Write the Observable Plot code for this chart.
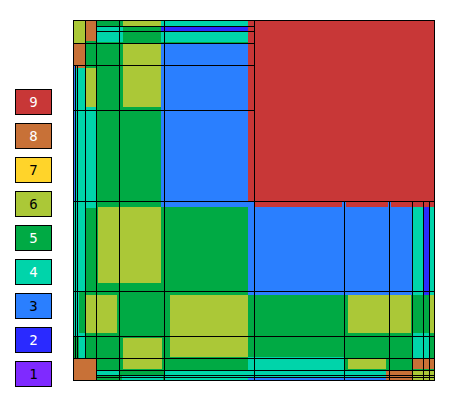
<!DOCTYPE html>
<html><head><meta charset="utf-8">
<script src="https://cdn.jsdelivr.net/npm/d3@7"></script>
<script src="https://cdn.jsdelivr.net/npm/@observablehq/plot@0.6"></script>
<style>
body{margin:0;background:#fff}
#wrap{position:relative;width:450px;height:400px}
.lg{position:absolute;left:15px;width:35px;height:24px;border:1px solid #000;font:14px "DejaVu Sans Mono",monospace;display:flex;align-items:center;justify-content:center}
</style>
</head><body><div id="wrap"></div>
<script>
// categories and palette
const categories = [1, 2, 3, 4, 5, 6, 7, 8, 9];
const palette = ["#7F2AFF", "#2A2AFF", "#2A7FFF", "#00D4AA", "#00AA44", "#ABC837", "#FFD42A", "#C87137", "#C83737"];
const labelInk = ["#000", "#fff", "#000", "#fff", "#fff", "#000", "#000", "#fff", "#fff"];

// colored regions (painted in order), data units
const rx1 = [0, 0, 12, 0, 2, 1, 0, 0, 12, 50, 88, 23, 88, 88, 50, 88, 175, 175, 181, 269, 315, 339, 350, 356, 25, 97, 12, 0, 6, 50, 0, 175, 91, 23, 49, 275, 313, 339, 339, 339, 356, 275, 175];
const rx2 = [361, 12, 23, 12, 12, 23, 12, 2, 23, 88, 175, 50, 175, 175, 88, 175, 339, 361, 361, 273, 318, 350, 356, 361, 88, 175, 44, 6, 12, 89, 23, 271, 316, 46, 90, 313, 339, 361, 361, 356, 361, 338, 313];
const ry1 = [0, 0, 0, 23, 45, 48, 188, 45, 48, 0, 0, 6, 6, 11, 24, 24, 181, 0, 181, 181, 181, 187, 187, 187, 187, 275, 275, 272, 313, 318, 338, 337, 350, 350, 355, 339, 350, 338, 350, 313, 275, 275, 358];
const ry2 = [360, 23, 21, 45, 48, 188, 272, 181, 87, 6, 6, 22, 11, 22, 87, 187, 275, 181, 187, 187, 187, 275, 275, 275, 263, 337, 313, 316, 338, 349, 360, 360, 360, 355, 360, 349, 360, 349, 360, 338, 313, 313, 360];
const rcat = [5, 6, 8, 8, 8, 4, 4, 3, 6, 6, 4, 4, 2, 4, 6, 3, 3, 9, 9, 3, 3, 4, 2, 4, 6, 6, 6, 4, 4, 6, 8, 4, 4, 4, 4, 6, 8, 8, 6, 4, 6, 6, 3];

// black grid lines
const vAt = [2, 4, 12, 23, 46, 91, 181, 271, 316, 339, 350, 356];
const vFrom = [45, 45, 0, 0, 0, 0, 0, 181, 181, 181, 181, 181];
const vTo = [338, 338, 338, 360, 360, 360, 360, 360, 360, 360, 360, 360];
const hAt = [6, 11, 23, 45, 90, 181, 271, 316, 338, 350, 355, 357];
const hFrom = [23, 23, 0, 0, 0, 0, 0, 0, 0, 23, 23, 23];
const hTo = [181, 181, 181, 181, 181, 361, 361, 361, 361, 361, 361, 361];

const chart = Plot.plot({
  width: 450,
  height: 400,
  marginLeft: 73,
  marginRight: 16,
  marginTop: 20,
  marginBottom: 20,
  x: {domain: [0, 361], axis: null},
  y: {domain: [0, 360], reverse: true, axis: null},
  color: {type: "ordinal", domain: categories, range: palette},
  marks: [
    Plot.rect(d3.range(rcat.length), {
      x1: i => rx1[i], x2: i => rx2[i], y1: i => ry1[i], y2: i => ry2[i],
      fill: i => rcat[i], shapeRendering: "crispEdges",
      insetLeft: -0.5, insetRight: 0.5, insetTop: -0.5, insetBottom: 0.5
    }),
    Plot.ruleX(d3.range(vAt.length), {x: i => vAt[i], y1: i => vFrom[i], y2: i => vTo[i], stroke: "black", strokeWidth: 1, shapeRendering: "crispEdges"}),
    Plot.ruleY(d3.range(hAt.length), {y: i => hAt[i], x1: i => hFrom[i], x2: i => hTo[i], stroke: "black", strokeWidth: 1, shapeRendering: "crispEdges"}),
    Plot.frame({stroke: "black", shapeRendering: "crispEdges"})
  ]
});
const wrap = document.getElementById("wrap");
wrap.appendChild(chart);

// legend (top to bottom: 9 ... 1)
categories.slice().reverse().forEach((c, k) => {
  const d = document.createElement("div");
  d.className = "lg";
  d.style.top = (89 + 34 * k) + "px";
  d.style.background = palette[c - 1];
  d.style.color = labelInk[c - 1];
  d.textContent = String(c);
  wrap.appendChild(d);
});
</script>
</body></html>
